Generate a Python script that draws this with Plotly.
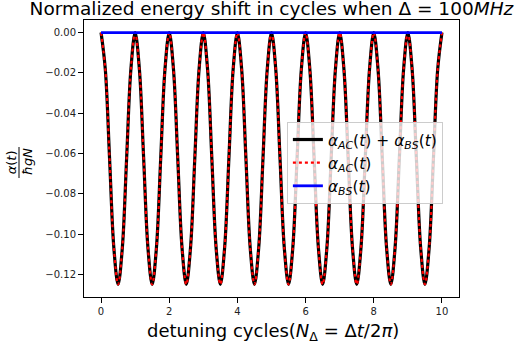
import plotly.graph_objects as go

# detuning cycles N_Delta (sampled every 1/8 cycle)
N_delta = [
    0.0, 0.125, 0.25, 0.375, 0.5, 0.625, 0.75, 0.875,
    1.0, 1.125, 1.25, 1.375, 1.5, 1.625, 1.75, 1.875,
    2.0, 2.125, 2.25, 2.375, 2.5, 2.625, 2.75, 2.875,
    3.0, 3.125, 3.25, 3.375, 3.5, 3.625, 3.75, 3.875,
    4.0, 4.125, 4.25, 4.375, 4.5, 4.625, 4.75, 4.875,
    5.0, 5.125, 5.25, 5.375, 5.5, 5.625, 5.75, 5.875,
    6.0, 6.125, 6.25, 6.375, 6.5, 6.625, 6.75, 6.875,
    7.0, 7.125, 7.25, 7.375, 7.5, 7.625, 7.75, 7.875,
    8.0, 8.125, 8.25, 8.375, 8.5, 8.625, 8.75, 8.875,
    9.0, 9.125, 9.25, 9.375, 9.5, 9.625, 9.75, 9.875,
    10.0,
]

# alpha_AC(t)
alpha_AC = [
    0.0, -0.0183, -0.0625, -0.1067, -0.125, -0.1067, -0.0625, -0.0183,
    0.0, -0.0183, -0.0625, -0.1067, -0.125, -0.1067, -0.0625, -0.0183,
    0.0, -0.0183, -0.0625, -0.1067, -0.125, -0.1067, -0.0625, -0.0183,
    0.0, -0.0183, -0.0625, -0.1067, -0.125, -0.1067, -0.0625, -0.0183,
    0.0, -0.0183, -0.0625, -0.1067, -0.125, -0.1067, -0.0625, -0.0183,
    0.0, -0.0183, -0.0625, -0.1067, -0.125, -0.1067, -0.0625, -0.0183,
    0.0, -0.0183, -0.0625, -0.1067, -0.125, -0.1067, -0.0625, -0.0183,
    0.0, -0.0183, -0.0625, -0.1067, -0.125, -0.1067, -0.0625, -0.0183,
    0.0, -0.0183, -0.0625, -0.1067, -0.125, -0.1067, -0.0625, -0.0183,
    0.0, -0.0183, -0.0625, -0.1067, -0.125, -0.1067, -0.0625, -0.0183,
    0.0,
]

# alpha_BS(t) is flat at zero
alpha_BS = [0.0] * len(N_delta)

alpha_total = [a + b for a, b in zip(alpha_AC, alpha_BS)]

x_ticks = [0, 2, 4, 6, 8, 10]
y_ticks = [0.0, -0.02, -0.04, -0.06, -0.08, -0.10, -0.12]

FONT = "DejaVu Sans"

fig = go.Figure()
fig.add_trace(go.Scatter(
    x=N_delta, y=alpha_total, mode="lines",
    line=dict(color="black", width=3.2, shape="spline", smoothing=1.0),
    name="<i>α</i><sub><i>AC</i></sub>(<i>t</i>) + <i>α</i><sub><i>BS</i></sub>(<i>t</i>)",
))
fig.add_trace(go.Scatter(
    x=N_delta, y=alpha_AC, mode="lines",
    line=dict(color="red", width=2.2, dash="dot", shape="spline", smoothing=1.0),
    name="<i>α</i><sub><i>AC</i></sub>(<i>t</i>)",
))
fig.add_trace(go.Scatter(
    x=N_delta, y=alpha_BS, mode="lines",
    line=dict(color="blue", width=2.8),
    name="<i>α</i><sub><i>BS</i></sub>(<i>t</i>)",
))

axis_common = dict(
    showgrid=False, zeroline=False, showline=True, mirror=True,
    linecolor="black", linewidth=1, ticks="outside", ticklen=5,
    tickcolor="black", tickwidth=1,
    tickfont=dict(family=FONT, size=10, color="#222"),
)

fig.update_layout(
    width=517, height=352,
    margin=dict(l=84, r=58, t=20, b=55),
    paper_bgcolor="white", plot_bgcolor="white",
    font=dict(family=FONT, color="black"),
    title=dict(
        text="Normalized energy shift in cycles when Δ = 100<i>MHz</i>",
        x=0.525, xanchor="center", y=0.975, yanchor="middle",
        font=dict(family=FONT, size=18.5, color="black"),
    ),
    xaxis=dict(range=[-0.5, 10.5], tickvals=x_ticks, **axis_common),
    yaxis=dict(range=[-0.13125, 0.00625], tickvals=y_ticks, tickformat=".2f", **axis_common),
    legend=dict(
        x=0.541, y=0.632, xanchor="left", yanchor="top",
        bgcolor="rgba(255,255,255,0.8)", bordercolor="#cccccc", borderwidth=1,
        font=dict(family=FONT, size=15.5, color="black"),
        tracegroupgap=0,
    ),
    shapes=[
        dict(type="line", xref="paper", yref="paper",
             x0=-0.1733, x1=-0.1733, y0=0.4296, y1=0.5415,
             line=dict(color="black", width=1)),
    ],
    annotations=[
        dict(
            text="detuning cycles(<i>N</i><sub>Δ</sub> = Δ<i>t</i>/2<i>π</i>)",
            xref="paper", yref="paper", x=0.505, y=-0.128, xanchor="center", yanchor="middle",
            showarrow=False, font=dict(family=FONT, size=18, color="black"),
        ),
        dict(
            text="<i>α</i>(<i>t</i>)",
            xref="paper", yref="paper", x=-0.194, y=0.487, xanchor="center", yanchor="middle",
            textangle=-90, showarrow=False, font=dict(family=FONT, size=13, color="black"),
        ),
        dict(
            text="<i>ħgN</i>",
            xref="paper", yref="paper", x=-0.152, y=0.487, xanchor="center", yanchor="middle",
            textangle=-90, showarrow=False, font=dict(family=FONT, size=13, color="black"),
        ),
    ],
)

fig.write_html("out.html")
